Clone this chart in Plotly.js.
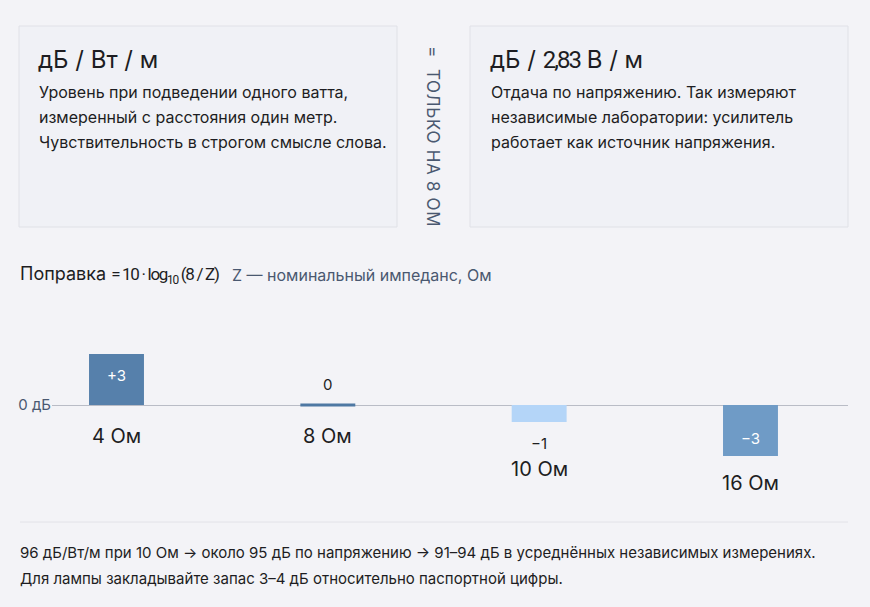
<!DOCTYPE html>
<html>
<head>
<meta charset="utf-8">
<script src="https://cdn.plot.ly/plotly-3.0.1.min.js"></script>
<style>
  html, body { margin: 0; padding: 0; background: #f3f3f7; }
  #chart { width: 870px; height: 607px; }
</style>
</head>
<body>
<div id="chart"></div>
<script>
// ---- data ----
const categories = ['4 Ом', '8 Ом', '10 Ом', '16 Ом'];
const corrections = [3, 0, -1, -3];
const valueLabels = ['+3', '0', '−1', '−3'];
const zeroTickLabel = '0 дБ';

const card1Title = 'дБ / Вт / м';
const card1Lines = ['Уровень при подведении одного ватта,', 'измеренный с расстояния один метр.', 'Чувствительность в строгом смысле слова.'];
const card2Title = ['дБ / ', '2,83', ' В / м'];
const card2Lines = ['Отдача по напряжению. Так измеряют', 'независимые лаборатории: усилитель', 'работает как источник напряжения.'];
const dividerText = '=  ТОЛЬКО НА 8 ОМ';
const formulaLead = 'Поправка';
const formulaBody = '= 10 · log<sub>10</sub> (8 / Z)';
const formulaNote = 'Z — номинальный импеданс, Ом';
const footerLines = ['96 дБ/Вт/м при 10 Ом → около 95 дБ по напряжению → 91–94 дБ в усреднённых независимых измерениях.',
                     'Для лампы закладывайте запас 3–4 дБ относительно паспортной цифры.'];

// ---- styles ----
const W = 870, H = 607;
const FONT = 'Inter, Roboto, "Noto Sans", sans-serif';
const narrow = (s, ls, size) => `<span style='font-family:Roboto;letter-spacing:${ls}px${size ? ';font-size:' + size + 'px' : ''}'>${s}</span>`;
const DARK = '#1d1d22';
const MUTED = '#4a5870';
const barColors = ['#5680ab', '#4e78a3', '#b4d5f8', '#6f9bc6'];
const PX_PER_DB = 17;
const ZERO_Y = 405;          // pixel row of the zero line
const PLOT_L = 52, PLOT_R = 848;
const SLOT = 211.33, FIRST_CENTER = 116.5;

const px = x => x / W;
const py = y => 1 - y / H;

const yMin = -(H - ZERO_Y) / PX_PER_DB;
const yMax = ZERO_Y / PX_PER_DB;
const xMin = -(FIRST_CENTER - PLOT_L) / SLOT;
const xMax = (PLOT_R - FIRST_CENTER) / SLOT;

const annotations = [];
function txt(text, x, y, size, color, opts) {
  annotations.push(Object.assign({
    text: text, x: px(x), y: py(y), xref: 'paper', yref: 'paper',
    xanchor: 'left', yanchor: 'middle', showarrow: false,
    font: { family: FONT, size: size, color: color }
  }, opts || {}));
}

// cards
txt(card1Title, 36, 60, 24, DARK);
card1Lines.forEach((l, i) => txt(l, 37, 92 + i * 25, 16, DARK));
txt(card2Title[0] + narrow(card2Title[1], -2) + card2Title[2], 488, 60, 24, DARK);
card2Lines.forEach((l, i) => txt(l, 489, 92 + i * 25, 16, DARK));
txt(`<span style='letter-spacing:0.7px'>${dividerText}</span>`, 433, 136, 17, MUTED, { xanchor: 'center', textangle: 90 });

// formula
txt(formulaLead + ' ' + narrow(formulaBody, -1.3, 17), 18, 275, 18, DARK);
txt(formulaNote, 230, 275, 16, MUTED);

// footer
footerLines.forEach((l, i) => txt(l, 18, 552 + i * 26, 15, DARK));

// bar value labels and category labels, tied to data
categories.forEach((c, i) => {
  const v = corrections[i];
  const inside = Math.abs(v) >= 2;
  let catShift = -31;
  if (inside) {
    annotations.push({
      text: valueLabels[i], x: c, y: v / 2, xref: 'x', yref: 'y', showarrow: false,
      yshift: v > 0 ? 4 : -8, font: { family: FONT, size: 15, color: '#ffffff' }
    });
    if (v < 0) catShift = -27;
  } else if (v >= 0) {
    annotations.push({
      text: valueLabels[i], x: c, y: v, xref: 'x', yref: 'y', showarrow: false,
      yanchor: 'middle', yshift: 21, font: { family: FONT, size: 15, color: DARK }
    });
  } else {
    annotations.push({
      text: valueLabels[i], x: c, y: v, xref: 'x', yref: 'y', showarrow: false,
      yanchor: 'middle', yshift: -21, font: { family: FONT, size: 15, color: DARK }
    });
    catShift = -47;
  }
  annotations.push({
    text: c, x: c, y: Math.min(v, 0), xref: 'x', yref: 'y', showarrow: false,
    yanchor: 'middle', yshift: catShift, font: { family: FONT, size: 20, color: DARK }
  });
});

const shapes = [
  { type: 'rect', xref: 'paper', yref: 'paper', x0: px(19), x1: px(397), y0: py(26), y1: py(227),
    fillcolor: '#f0f1f6', line: { color: '#e0e1e7', width: 1 }, layer: 'below' },
  { type: 'rect', xref: 'paper', yref: 'paper', x0: px(470), x1: px(848), y0: py(26), y1: py(227),
    fillcolor: '#f0f1f6', line: { color: '#e0e1e7', width: 1 }, layer: 'below' },
  { type: 'line', xref: 'paper', yref: 'paper', x0: px(20), x1: px(848), y0: py(522), y1: py(522),
    line: { color: '#e2e2e8', width: 1 } }
];

const trace = {
  type: 'bar', x: categories, y: corrections, width: 0.26,
  marker: { color: barColors, line: { color: barColors, width: corrections.map(v => v === 0 ? 3 : 0) } },
  hoverinfo: 'skip'
};

const layout = {
  width: W, height: H,
  margin: { l: 0, r: 0, t: 0, b: 0 },
  paper_bgcolor: '#f3f3f7', plot_bgcolor: 'rgba(0,0,0,0)',
  showlegend: false, hovermode: false,
  xaxis: { type: 'category', domain: [px(PLOT_L), px(PLOT_R)], range: [xMin, xMax],
           showticklabels: false, showgrid: false, zeroline: false, showline: false, ticks: '' },
  yaxis: { domain: [0, 1], range: [yMin, yMax], tickvals: [0], ticktext: [zeroTickLabel],
           showgrid: false, zeroline: true, zerolinecolor: '#b9bcc6', zerolinewidth: 1,
           showline: false, ticks: '', ticklabelstandoff: 0,
           tickfont: { family: FONT, size: 15, color: MUTED } },
  annotations: annotations, shapes: shapes
};

Plotly.newPlot('chart', [trace], layout, { staticPlot: true, displayModeBar: false });
</script>
</body>
</html>
